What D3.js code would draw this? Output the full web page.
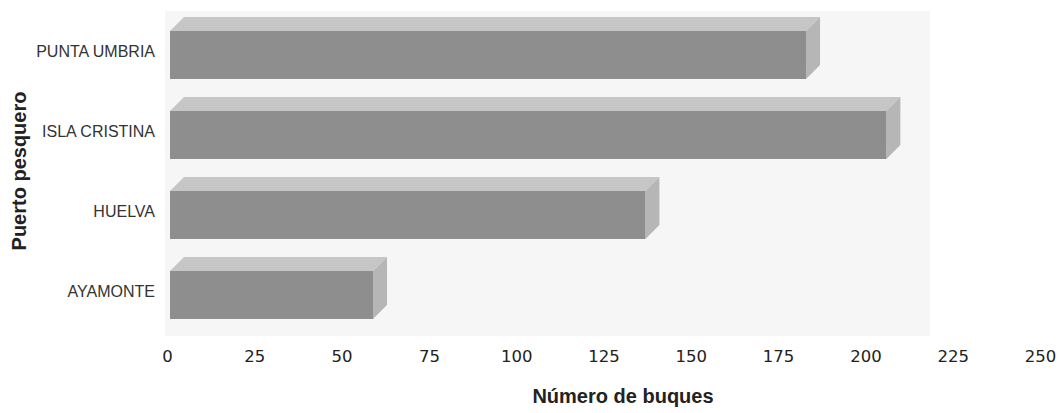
<!DOCTYPE html>
<html><head><meta charset="utf-8">
<script src="https://cdn.jsdelivr.net/npm/d3@7"></script>
<style>body{margin:0;background:#fff}</style>
</head><body>
<script>
const categories = ["PUNTA UMBRIA", "ISLA CRISTINA", "HUELVA", "AYAMONTE"];
const values = [183, 206, 137, 59];
const tickValues = [0, 25, 50, 75, 100, 125, 150, 175, 200, 225, 250];
const xTitle = "Número de buques";
const yTitle = "Puerto pesquero";

const W = 1064, H = 413;
const svg = d3.select("body").append("svg").attr("width", W).attr("height", H);

const x = d3.scaleLinear().domain([0, 250]).range([167, 1040]);
const y = d3.scaleBand().domain(categories).range([17, 337]).padding(0);
const dx = 14, dy = 14, faceH = 48;

// back wall
svg.append("rect").attr("x", 165).attr("y", 11).attr("width", 765).attr("height", 325).attr("fill", "#f6f6f6");

const g = svg.append("g");
categories.forEach((c, i) => {
  const x0 = x(0) + 3, x1 = x(values[i]);
  const top = y(c) + dy, bot = top + faceH;
  g.append("path").attr("d", `M${x0},${top}L${x0 + dx},${top - dy}L${x1 + dx},${top - dy}L${x1},${top}Z`).attr("fill", "#c6c6c6");
  g.append("path").attr("d", `M${x1},${top}L${x1 + dx},${top - dy}L${x1 + dx},${bot - dy}L${x1},${bot}Z`).attr("fill", "#b6b6b6");
  g.append("rect").attr("x", x0).attr("y", top).attr("width", x1 - x0).attr("height", faceH).attr("fill", "#8e8e8e");
  svg.append("text").attr("x", 155).attr("y", top + faceH / 2 - 2).attr("text-anchor", "end")
    .attr("dominant-baseline", "middle")
    .attr("font-family", "Liberation Sans, sans-serif").attr("font-size", 16)
    .attr("fill", "#333").text(c);
});

const ax = svg.append("g").attr("transform", "translate(0,356)")
  .call(d3.axisBottom(x).tickValues(tickValues).tickSize(0).tickPadding(0));
ax.select(".domain").remove();
ax.selectAll("text").attr("font-family", "DejaVu Sans, sans-serif").attr("font-size", 16.5).attr("fill", "#222").attr("dy", "0.35em").attr("y", 0);

svg.append("text").attr("x", 623).attr("y", 403).attr("text-anchor", "middle")
  .attr("font-family", "Liberation Sans, sans-serif").attr("font-weight", "bold").attr("font-size", 20).attr("fill", "#222").text(xTitle);
svg.append("text").attr("transform", "translate(26,171) rotate(-90)").attr("text-anchor", "middle")
  .attr("font-family", "Liberation Sans, sans-serif").attr("font-weight", "bold").attr("font-size", 20).attr("fill", "#222").text(yTitle);
</script>
</body></html>
